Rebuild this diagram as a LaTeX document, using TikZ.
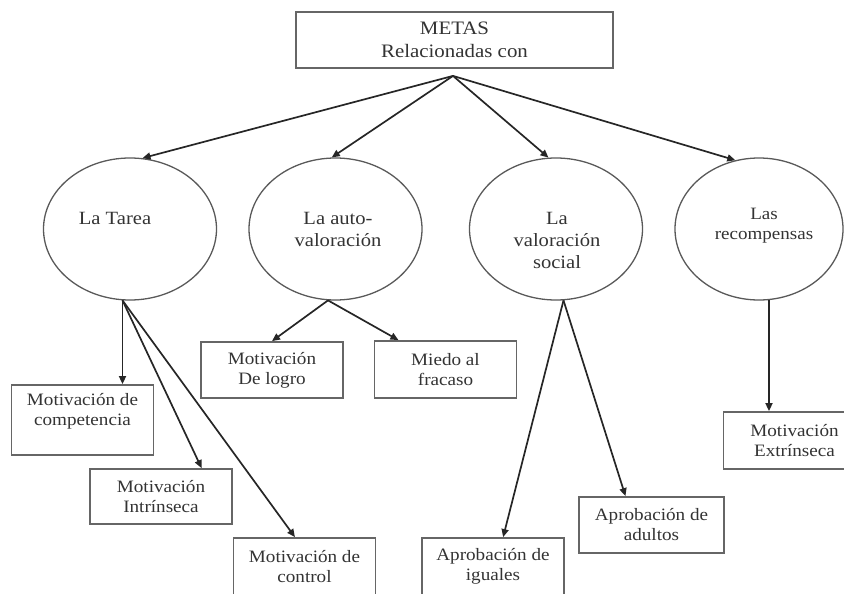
\documentclass[tikz,border=0pt]{standalone}
\usepackage{fontspec}
\setmainfont[FakeStretch=1.1]{Liberation Serif}
\usepackage{tikz}
\usetikzlibrary{arrows.meta,shapes.geometric}
\tikzset{>={Triangle[length=8pt,width=7pt]}}

\begin{document}
\begin{tikzpicture}[x=1pt,y=-1pt,
    caja/.style={draw=black!60, line width=1.8pt, align=center, text=black!80,
        font=\fontsize{17.4}{20}\selectfont, inner sep=0pt,
        minimum width=142pt, minimum height=56pt},
    meta/.style={draw=black!65, line width=1.3pt, ellipse, inner sep=0pt,
        minimum width=173pt, minimum height=142pt},
    etext/.style={align=center, text=black!80, font=\fontsize{18.7}{22}\selectfont},
    flecha/.style={->, draw=black!85, line width=1.7pt}]
    \useasboundingbox (0,0) rectangle (844,594);
    \clip (0,0) rectangle (844,594);
    % caja superior
    \node[caja, minimum width=317pt, font=\fontsize{19}{23}\selectfont] (metas) at (454.5,40)
        {METAS\\Relacionadas con};
    \coordinate (fork) at ([xshift=-1.5pt,yshift=-7pt]metas.south);
    % las cuatro metas
    \node[meta, label={[etext, xshift=-15pt, yshift=11pt]center:La Tarea}] (tarea) at (130,229) {};
    \node[meta, label={[etext, xshift=2.5pt]center:La auto-\\valoración}] (auto) at (335.5,229) {};
    \node[meta, label={[etext, xshift=1pt, yshift=-11pt]center:La\\valoración\\social}] (social) at (556,229) {};
    \node[meta, minimum width=168pt,
        label={[etext, xshift=5pt, yshift=3pt, font=\fontsize{17.3}{20}\selectfont]center:Las\\recompensas}] (recomp) at (759,229) {};
    % tipos de motivacion
    \node[caja, minimum height=70pt, text depth=22pt] (comp) at (82.5,420)
        {Motivación de\\competencia};
    \node[caja, minimum height=55pt] (intr) at (161,496.5) {Motivación\\Intrínseca};
    \node[caja, minimum height=57pt] (ctrl) at (304.5,566.5) {Motivación de\\control};
    \node[caja] (logro) at (272,370) {Motivación\\De logro};
    \node[caja, minimum height=57pt] (miedo) at (445.5,369.5) {Miedo al\\fracaso};
    \node[caja, minimum height=57pt] (iguales) at (493,566.5) {Aprobación de\\iguales};
    \node[caja, minimum width=145pt] (adultos) at (651.5,525) {Aprobación de\\adultos};
    \node[caja, minimum height=57pt] (extr) at (794.5,440.5) {Motivación\\Extrínseca};
    % flechas
    \draw[flecha] (fork) -- (tarea.80);
    \draw[flecha] (fork) -- (auto.93);
    \draw[flecha] (fork) -- (social.96);
    \draw[flecha] (fork) -- (recomp.109);
    \draw[flecha] (tarea.-96) -- (tarea.-96 |- comp.north);
    \draw[flecha] (tarea.-96) -- (intr.35);
    \draw[flecha] (tarea.-96) -- (ctrl.108);
    \draw[flecha] (auto.-96) -- (logro.north);
    \draw[flecha] (auto.-96) -- (miedo.148);
    \draw[flecha] (social.-84) -- (iguales.71);
    \draw[flecha] (social.-84) -- (adultos.132);
    \draw[flecha] (recomp.-82) -- (recomp.-82 |- extr.north);
\end{tikzpicture}
\end{document}
